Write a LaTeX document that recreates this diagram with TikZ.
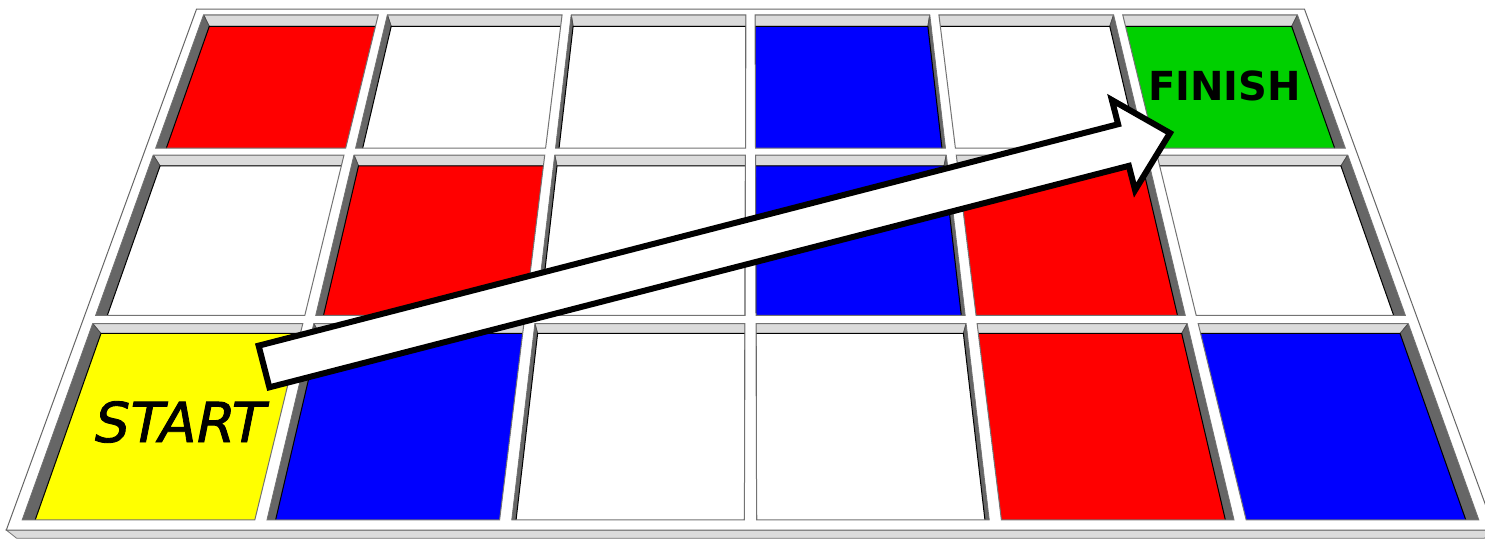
\documentclass[tikz,border=0pt]{standalone}
\usepackage{fontspec}
\setmainfont{DejaVu Sans}
\newfontfamily\startfont{DejaVu Sans}[UprightFeatures={FakeSlant=0.2,FakeBold=1.6}]
\definecolor{cred}{RGB}{255,0,0}
\definecolor{cblue}{RGB}{0,0,255}
\definecolor{cgreen}{RGB}{0,208,0}
\definecolor{cyellow}{RGB}{255,255,0}
% board point (X across, Z depth, Y height) seen in perspective
\newcommand{\bpt}[4]{%
 \pgfmathsetmacro\bpD{1+0.1125*(#3)-0.1693*(#4)}%
 \pgfmathsetmacro\bpx{750.5+245.4*(#2)/\bpD}%
 \pgfmathsetmacro\bpy{-1508+(2033-443.8*(#4))/\bpD}%
 \coordinate (#1) at (\bpx,\bpy);}
\def\wx{0.05}
\def\wz{0.045}
\def\celld{0.083}

\begin{document}
\begin{tikzpicture}[x=0.5pt,y=-0.5pt,
 frametop/.style={fill=white,draw=black!60,line width=0.5pt},
 backwall/.style={fill=black!14,draw=black!55,line width=0.4pt},
 sidewall/.style={fill=black!60,draw=black!70,line width=0.4pt},
 tile/.style={draw=black,line width=0.5pt},
 rim/.style={draw=black!55,line width=0.5pt},
 lab/.style={inner sep=0pt,text=black},
 arr/.style={fill=white,draw=black,line width=3pt}]
\useasboundingbox (0,0) rectangle (1485,540);
% frame: top surface and front face
\bpt{fl}{-3-\wx/2}{-\wz/2}{0} \bpt{fr}{3+\wx/2}{-\wz/2}{0}
\bpt{bl}{-3-\wx/2}{3+\wz/2}{0} \bpt{br}{3+\wx/2}{3+\wz/2}{0}
\bpt{fll}{-3-\wx/2}{-\wz/2}{-\celld} \bpt{frl}{3+\wx/2}{-\wz/2}{-\celld}
\draw[backwall] (fl)--(fr)--(frl)--(fll)--cycle;
\draw[frametop] (fl)--(fr)--(br)--(bl)--cycle;
% recessed cells
\foreach \i/\j/\col in {0/0/cyellow,1/0/cblue,2/0/white,3/0/white,4/0/cred,5/0/cblue,
 0/1/white,1/1/cred,2/1/white,3/1/cblue,4/1/cred,5/1/white,
 0/2/cred,1/2/white,2/2/white,3/2/cblue,4/2/white,5/2/cgreen}{
 \pgfmathsetmacro\Xa{\i-3+\wx/2} \pgfmathsetmacro\Xb{\i-2-\wx/2}
 \pgfmathsetmacro\Za{\j+\wz/2} \pgfmathsetmacro\Zb{\j+1-\wz/2}
 \bpt{oa}{\Xa}{\Za}{0} \bpt{ob}{\Xb}{\Za}{0} \bpt{oc}{\Xb}{\Zb}{0} \bpt{od}{\Xa}{\Zb}{0}
 \bpt{fa}{\Xa}{\Za}{-\celld} \bpt{fb}{\Xb}{\Za}{-\celld}
 \bpt{fc}{\Xb}{\Zb}{-\celld} \bpt{fd}{\Xa}{\Zb}{-\celld}
 \begin{scope}
  \clip (oa)--(ob)--(oc)--(od)--cycle;
  \draw[backwall] (od)--(oc)--(fc)--(fd)--cycle;
  \ifnum\i<3 \draw[sidewall] (oa)--(od)--(fd)--(fa)--cycle;
  \else \draw[sidewall] (ob)--(oc)--(fc)--(fb)--cycle; \fi
  \draw[tile,fill=\col] (fa)--(fb)--(fc)--(fd)--cycle;
 \end{scope}
 \draw[rim] (oa)--(ob)--(oc)--(od)--cycle;
}
\node[lab,font=\fontsize{27.5}{30}\selectfont\startfont] (start) at (176,422) {START};
\node[lab,font=\fontsize{20}{24}\selectfont\bfseries] (finish) at (1224.5,86) {FINISH};
% the big arrow
\begin{scope}[shift={(264,366.5)},rotate=14.45]
\draw[arr] (0,-21.5) -- (887.6,-21.5) -- (887.6,-46.5) -- (935.6,0)
 -- (887.6,46.5) -- (887.6,21.5) -- (0,21.5) -- cycle;
\end{scope}
\end{tikzpicture}
\end{document}
